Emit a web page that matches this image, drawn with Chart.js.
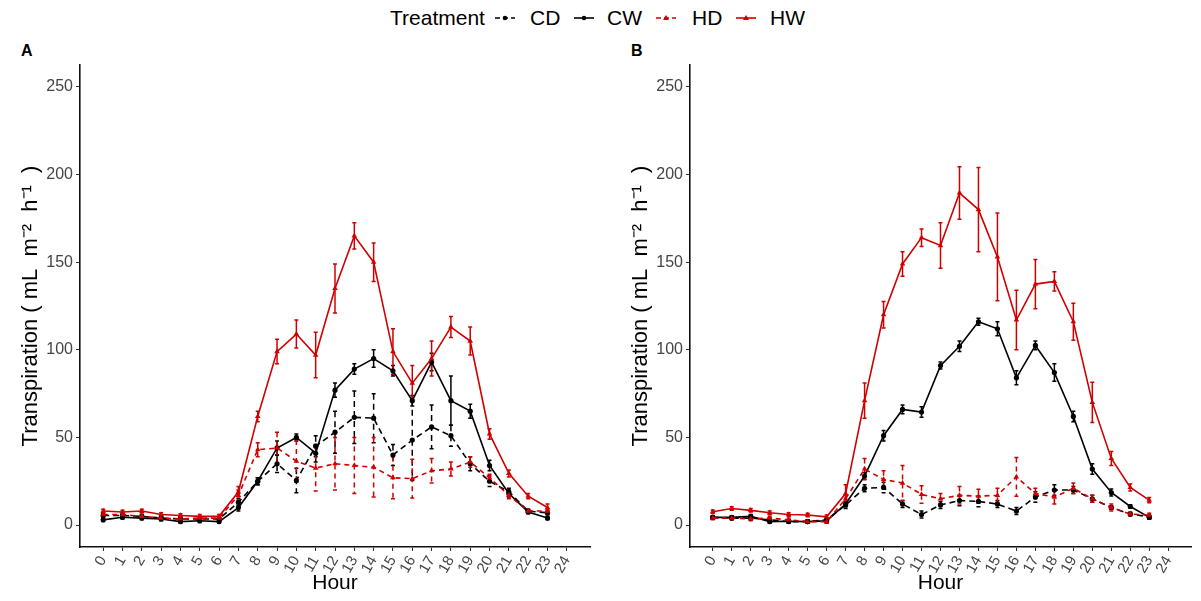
<!DOCTYPE html>
<html>
<head>
<meta charset="utf-8">
<script src="https://cdn.jsdelivr.net/npm/chart.js@4/dist/chart.umd.min.js"></script>
<style>
  body { margin: 0; background: #fff; font-family: "Liberation Sans", Arial, sans-serif; }
  #wrap { position: relative; width: 1201px; height: 601px; overflow: hidden; }
  .panel { position: absolute; top: 0; height: 601px; }
  #boxA { left: 0; width: 600px; }
  #boxB { left: 610px; width: 591px; }
  .tag { position: absolute; top: 42px; font-weight: bold; font-size: 16px; }
  .lg { position: absolute; top: 6px; font-size: 21px; line-height: 24px; color: #000; }
  .mk { position: absolute; top: 13px; }
</style>
</head>
<body>
<div id="wrap">
  <div class="lg" style="left:390px">Treatment</div>
  <svg class="mk" style="left:495px" width="20" height="10"><line x1="0" y1="5" x2="20" y2="5" stroke="#000" stroke-width="1.6" stroke-dasharray="5,3"/><circle cx="10" cy="5" r="2.3" fill="#000"/></svg>
  <div class="lg" style="left:530px">CD</div>
  <svg class="mk" style="left:574px" width="20" height="10"><line x1="0" y1="5" x2="20" y2="5" stroke="#000" stroke-width="1.6"/><circle cx="10" cy="5" r="2.3" fill="#000"/></svg>
  <div class="lg" style="left:607px">CW</div>
  <svg class="mk" style="left:656px" width="20" height="10"><line x1="0" y1="5" x2="20" y2="5" stroke="#d00000" stroke-width="1.6" stroke-dasharray="5,3"/><polygon points="10,2 13,7 7,7" fill="#d00000"/></svg>
  <div class="lg" style="left:692px">HD</div>
  <svg class="mk" style="left:736px" width="20" height="10"><line x1="0" y1="5" x2="20" y2="5" stroke="#d00000" stroke-width="1.6"/><polygon points="10,2 13,7 7,7" fill="#d00000"/></svg>
  <div class="lg" style="left:770px">HW</div>

  <div class="tag" style="left:21px">A</div>
  <div class="tag" style="left:631px">B</div>

  <div class="panel" id="boxA"><canvas id="chartA"></canvas></div>
  <div class="panel" id="boxB"><canvas id="chartB"></canvas></div>
</div>

<script>
// ===============================
// dados
// ===============================
const hours = [0, 1, 2, 3, 4, 5, 6, 7, 8, 9, 10, 11, 12, 13, 14, 15, 16, 17, 18, 19, 20, 21, 22, 23];
const xTicks = [0, 1, 2, 3, 4, 5, 6, 7, 8, 9, 10, 11, 12, 13, 14, 15, 16, 17, 18, 19, 20, 21, 22, 23, 24];
const yTicks = [0, 50, 100, 150, 200, 250];

// painel A
const cdA = [5.5, 5.5, 5, 4, 3.5, 3.5, 3.5, 13, 25, 35, 25.5, 45, 53, 61.5, 61, 40, 48.5, 56, 51, 35, 25, 19, 8, 7];
const cdAErr = [1, 1, 1, 1, 1, 1, 1, 2, 2, 5, 7, 6, 12, 15, 14, 6, 23, 12.5, 6, 4, 3, 2, 1, 1];
const cwA = [3, 4.5, 4, 3.5, 2, 2.5, 2, 10, 25, 44, 50, 41, 77, 89, 95, 88, 71, 93, 71, 65, 34, 18, 7.5, 4];
const cwAErr = [1, 1, 1, 1, 1, 1, 1, 2, 2, 4, 2, 5, 4, 3, 5, 3, 3, 5, 14, 4, 3, 2, 1, 1];
const hdA = [6, 6, 5, 4, 3.5, 4, 4, 17, 43, 44, 36.5, 32.5, 35, 34, 33, 27, 26.5, 31, 32, 36, 27, 17, 8, 8];
const hdAErr = [1, 1, 1, 1, 1, 1, 1, 3, 4, 9, 12, 13, 15, 16, 17, 12, 11, 7, 4, 3, 2, 2, 1, 1];
const hwA = [8, 7.5, 8, 6, 5.5, 5, 5, 19, 62, 99, 109, 97, 135, 165, 150, 99, 81, 95, 113, 105, 52, 29.5, 16.5, 10];
const hwAErr = [1, 1, 1, 1, 1, 1, 1, 3, 3, 7, 8, 13, 14, 7.5, 11, 13, 10, 10, 6, 8, 3, 2, 1.5, 2];

// painel B
const cdB = [4.4, 4, 4, 3, 2, 2, 3, 11.5, 21, 21.5, 12, 6, 11.5, 14, 13.5, 12, 8, 16, 20, 20, 15, 10, 6.3, 4.7];
const cdBErr = [1, 1, 1, 1, 1, 1, 1, 2, 2, 3, 2, 2, 2, 3, 3, 2, 2, 3, 3, 2, 2, 1, 1, 1];
const cwB = [4.4, 4.4, 5, 2, 2.2, 2, 2.4, 12, 28, 51, 66, 64.5, 91, 102, 116, 112, 84, 102.5, 87, 62, 32, 18.6, 10.6, 4.4];
const cwBErr = [1, 1, 1, 1, 1, 1, 1, 1.5, 2, 3, 2.5, 3, 2, 3, 2, 4, 4, 2.5, 5, 3, 3, 2, 1, 1];
const hdB = [4, 4, 3.5, 4, 3, 2, 2, 15, 32, 26, 24, 17.5, 15, 17, 16.5, 17, 27.5, 18, 16, 21, 15, 10, 6.3, 5.7];
const hdBErr = [1, 1, 1, 1, 1, 1, 1, 2, 6, 5, 10, 5, 3, 5, 4, 4, 11, 3, 4, 3, 2, 2, 1, 1];
const hwB = [7.6, 9.5, 8.4, 7, 6, 5.8, 4.7, 18, 71, 120, 149, 164, 159.5, 189.5, 180, 153, 117, 137.5, 139, 116, 70, 38, 21.5, 14.2];
const hwBErr = [1, 1, 1, 1, 1, 1, 1, 5, 10, 7.5, 7, 5, 13, 15, 24, 25, 17, 14, 5.5, 10.5, 11.5, 4, 2, 1.5];

const RED = "#d00000";
const BLACK = "#000000";

// ===============================
// barras de erro (plugin simples)
// ===============================
const errorBars = {
  id: "errorBars",
  beforeDatasetsDraw(chart) {
    const ctx = chart.ctx;
    const ys = chart.scales.y;
    chart.data.datasets.forEach((ds, i) => {
      const meta = chart.getDatasetMeta(i);
      ctx.save();
      ctx.strokeStyle = ds.borderColor;
      ctx.lineWidth = 1.5;
      meta.data.forEach((pt, j) => {
        const v = ds.data[j].y;
        const e = ds.errors[j];
        const top = ys.getPixelForValue(v + e);
        const bot = ys.getPixelForValue(v - e);
        ctx.setLineDash(ds.borderDash || []);
        ctx.beginPath();
        ctx.moveTo(pt.x, top);
        ctx.lineTo(pt.x, bot);
        ctx.stroke();
        ctx.setLineDash([]);
        ctx.beginPath();
        ctx.moveTo(pt.x - 2, top); ctx.lineTo(pt.x + 2, top);
        ctx.moveTo(pt.x - 2, bot); ctx.lineTo(pt.x + 2, bot);
        ctx.stroke();
      });
      ctx.restore();
    });
  }
};

function serie(label, values, errs, color, dash, shape, order) {
  return {
    label,
    data: hours.map((h, i) => ({ x: h, y: values[i] })),
    errors: errs,
    borderColor: color,
    backgroundColor: color,
    borderWidth: 1.6,
    borderDash: dash,
    pointStyle: shape,
    pointRadius: shape === "triangle" ? 3.2 : 2.6,
    pointBorderWidth: 0,
    tension: 0,
    order
  };
}

function makePanel(id, cd, cdErr, cw, cwErr, hd, hdErr, hw, hwErr) {
  return new Chart(document.getElementById(id), {
    type: "line",
    data: {
      datasets: [
        serie("CD", cd, cdErr, BLACK, [6, 4], "circle", 4),
        serie("CW", cw, cwErr, BLACK, [], "circle", 3),
        serie("HD", hd, hdErr, RED, [5, 4], "triangle", 2),
        serie("HW", hw, hwErr, RED, [], "triangle", 1)
      ]
    },
    options: {
      responsive: true,
      maintainAspectRatio: false,
      animation: false,
      layout: { padding: { left: 0, right: 10, top: 65, bottom: 0 } },
      plugins: {
        legend: { display: false },
        tooltip: { enabled: false }
      },
      scales: {
        x: {
          type: "linear",
          min: -1.2,
          max: 25.2,
          afterBuildTicks: s => { s.ticks = xTicks.map(v => ({ value: v })); },
          afterFit: s => { s.height = 54; },
          grid: { drawOnChartArea: false, drawTicks: true, tickLength: 4, color: "#333" },
          border: { display: true, color: "#111", width: 1.6 },
          ticks: {
            autoSkip: false,
            minRotation: 60, maxRotation: 60, padding: 2,
            color: "#444",
            font: { family: "Liberation Sans", size: 15 }
          },
          title: {
            display: true, text: "Hour", color: "#000",
            font: { family: "Liberation Sans", size: 21 },
            padding: { top: 0, bottom: 5 }
          }
        },
        y: {
          min: -12.5,
          max: 262.5,
          afterBuildTicks: s => { s.ticks = yTicks.map(v => ({ value: v })); },
          afterFit: s => { s.width = 80; },
          grid: { drawOnChartArea: false, drawTicks: true, tickLength: 4, color: "#333" },
          border: { display: true, color: "#111", width: 1.6 },
          ticks: {
            padding: 3,
            color: "#444",
            font: { family: "Liberation Sans", size: 16 }
          },
          title: {
            display: true, text: "Transpiration ( mL  m\u207B\u00B2  h\u207B\u00B9  )", color: "#000",
            font: { family: "Liberation Sans", size: 22 },
            padding: { top: 18, bottom: 0 }
          }
        }
      }
    },
    plugins: [errorBars]
  });
}

makePanel("chartA", cdA, cdAErr, cwA, cwAErr, hdA, hdAErr, hwA, hwAErr);
makePanel("chartB", cdB, cdBErr, cwB, cwBErr, hdB, hdBErr, hwB, hwBErr);
</script>
</body>
</html>
